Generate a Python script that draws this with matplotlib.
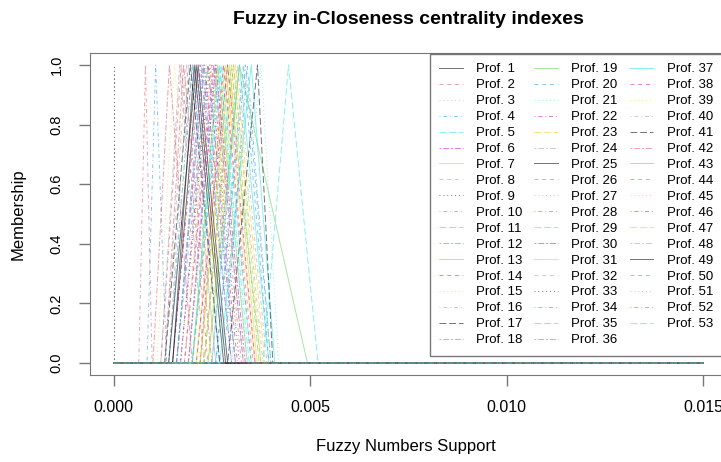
import matplotlib
matplotlib.use("Agg")
import matplotlib.pyplot as plt

# fuzzy triangular numbers (x 1e-3): left support, core, right support
support_left = [1.5, 1.2, 1.9, 0.85, 2.0, 1.6, 2.1, 1.3, 1.7, 0.64,
                2.2, 1.4, 2.5, 1.8, 1.1, 2.3, 1.3, 1.0, 2.4, 1.6,
                1.9, 1.5, 2.4, 1.2, 1.5, 2.0, 1.7, 2.6, 3.8, 1.9,
                2.2, 1.4, 0.0, 1.8, 2.3, 1.6, 2.7, 2.1, 1.8, 2.5,
                2.9, 1.3, 2.0, 2.6, 3.0, 1.7, 2.3, 1.9, 1.4, 2.2,
                1.6, 2.8, 2.0]
core = [2.05, 1.72, 2.6, 1.07, 2.75, 2.3, 2.85, 1.85, 2.45, 0.81,
        2.9, 2.0, 3.2, 2.55, 1.55, 3.05, 1.95, 1.42, 3.2, 2.4,
        2.7, 2.2, 3.1, 1.68, 2.15, 2.8, 2.35, 3.35, 4.45, 2.6,
        2.95, 1.9, 0.0, 2.5, 3.0, 2.25, 3.5, 2.9, 2.45, 3.15,
        3.66, 1.78, 2.65, 3.3, 3.75, 2.4, 3.05, 2.55, 2.1, 2.8,
        2.3, 3.4, 2.7]
support_right = [2.8, 2.4, 3.3, 1.35, 3.5, 3.1, 3.6, 2.6, 3.2, 0.98,
                 3.75, 2.7, 3.95, 3.3, 2.2, 3.8, 2.7, 2.0, 4.93, 3.1,
                 3.4, 3.0, 3.85, 2.3, 2.9, 3.55, 3.1, 4.0, 5.2, 3.35,
                 3.65, 2.6, 0.0, 3.25, 3.7, 3.0, 4.1, 3.6, 3.2, 3.9,
                 4.05, 2.5, 3.4, 3.95, 4.2, 3.15, 3.75, 3.3, 2.85, 3.5,
                 3.05, 4.0, 3.45]
labels = [f"Prof. {i}" for i in range(1, 54)]
x_max = 0.015

# R default palette and line types, recycled
palette = ["black", "#DF536B", "#61D04F", "#2297E6",
           "#28E2E5", "#CD0BBC", "#F5C710", "#9E9E9E"]
ltys = ["-", (0, (4, 4)), (0, (1, 3)), (0, (1, 3, 4, 3)),
        (0, (7, 3)), (0, (2, 2, 6, 2))]

plt.rcParams["font.family"] = ["Liberation Sans", "DejaVu Sans"]

W, H = 721, 462
fig = plt.figure(figsize=(W / 100, H / 100), dpi=100)
# plot region extends a little past the right edge, as in the original
ax = fig.add_axes([90 / W, 1 - 375 / H, (727 - 90) / W, (375 - 53) / H])

for i, lab in enumerate(labels):
    a, b, c = support_left[i] / 1000, core[i] / 1000, support_right[i] / 1000
    ax.plot([0, a, b, c, x_max], [0, 0, 1, 0, 0],
            color=palette[i % 8], linestyle=ltys[i % 6],
            linewidth=0.7, alpha=0.55, label=lab)

ax.set_xlim(-0.0006, 0.0156)
ax.set_ylim(-0.04, 1.04)
ax.set_xticks([0, 0.005, 0.010, 0.015])
ax.set_xticklabels(["0.000", "0.005", "0.010", "0.015"])
ax.set_yticks([0, 0.2, 0.4, 0.6, 0.8, 1.0])
ax.set_yticklabels(["0.0", "0.2", "0.4", "0.6", "0.8", "1.0"],
                   rotation=90, va="center")
ax.tick_params(axis="both", length=8, width=1, color="#777777")
ax.tick_params(axis="x", labelsize=11.5, pad=10)
ax.tick_params(axis="y", labelsize=10.5, pad=11)
for s in ax.spines.values():
    s.set_color("#777777")

fig.text(408 / W, 1 - 20 / H, "Fuzzy in-Closeness centrality indexes",
         ha="center", va="center", fontsize=14, fontweight="bold")
fig.text(406 / W, 1 - 446 / H, "Fuzzy Numbers Support",
         ha="center", va="center", fontsize=12)
fig.text(18 / W, 1 - 214 / H, "Membership", rotation=90,
         ha="center", va="center", fontsize=12)

leg = ax.legend(ncol=3, loc="upper left",
                bbox_to_anchor=(430 / W, 1 - 54 / H),
                bbox_transform=fig.transFigure,
                fontsize=9.5, frameon=True, fancybox=False,
                handlelength=1.8, handletextpad=1.0, columnspacing=0.9,
                labelspacing=0.28, borderpad=0.7, borderaxespad=0)
leg.get_frame().set_edgecolor("#555555")
leg.get_frame().set_linewidth(1)

fig.savefig("out.png", dpi=100)
